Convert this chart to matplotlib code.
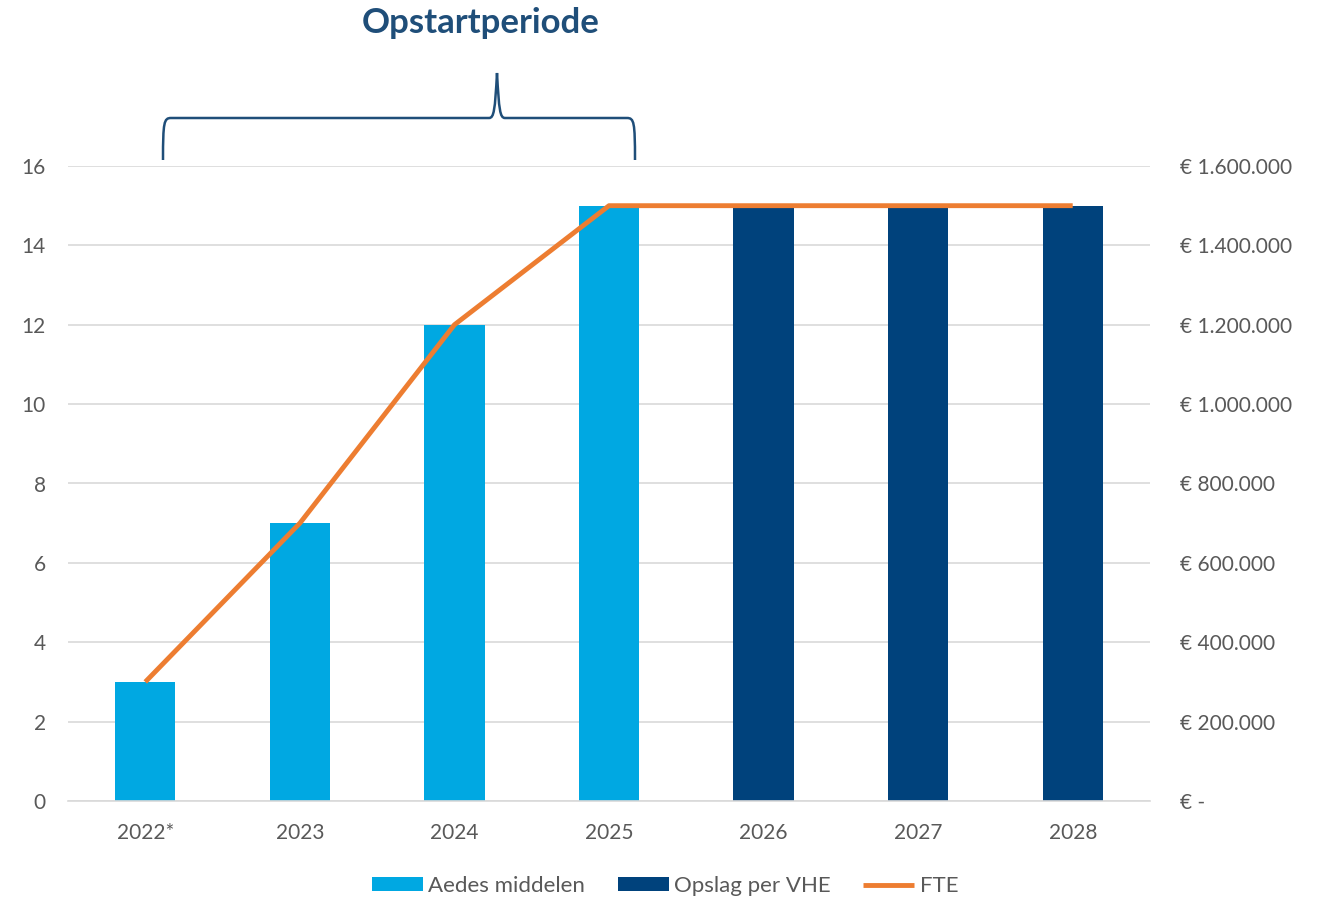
import numpy as np
import matplotlib.pyplot as plt
from matplotlib.path import Path
from matplotlib.patches import PathPatch
from matplotlib.ticker import FuncFormatter

plt.rcParams['font.family'] = ['Lato', 'DejaVu Sans']

# data
years = ['2022*', '2023', '2024', '2025', '2026', '2027', '2028']
aedes = [300000, 700000, 1200000, 1500000, 0, 0, 0]
opslag = [0, 0, 0, 0, 1500000, 1500000, 1500000]
fte = [3, 7, 12, 15, 15, 15, 15]

light = '#00A8E2'
dark = '#00427C'
orange = '#ED7D31'
grey = '#595959'

fig = plt.figure(figsize=(13.17, 8.98), dpi=100)
ax = fig.add_axes([68/1317, 97/898, (1150-68)/1317, (801-166)/898])
ax2 = ax.twinx()

x = np.arange(len(years))
w = 0.39
ax2.bar(x, aedes, w, color=light, label='Aedes middelen', zorder=2)
ax2.bar(x, opslag, w, color=dark, label='Opslag per VHE', zorder=2)
ax.plot(x, fte, color=orange, lw=3.5, label='FTE', zorder=5, solid_capstyle='butt')

# line above bars
ax.set_zorder(ax2.get_zorder() + 1)
ax.patch.set_visible(False)

ax.set_xlim(-0.5, 6.5)
ax.set_ylim(0, 16)
ax.set_yticks(range(0, 17, 2))
ax2.set_ylim(0, 1600000)
ax2.set_yticks(range(0, 1600001, 200000))

def euro(v, pos):
    if v == 0:
        return '€ -'
    return '€ ' + f'{int(v):,}'.replace(',', '.')

ax2.yaxis.set_major_formatter(FuncFormatter(euro))

ax.set_xticks(x)
ax.set_xticklabels(years)
for a in (ax, ax2):
    for s in a.spines.values():
        s.set_visible(False)
    a.tick_params(length=0, labelsize=15, labelcolor=grey)
ax.tick_params(axis='x', pad=16)
ax.tick_params(axis='y', pad=16)
ax2.tick_params(axis='y', pad=21.5)
ax2.yaxis.grid(True, color='#D9D9D9', lw=1.2, zorder=0)
ax2.set_axisbelow(True)
ax.spines['bottom'].set_visible(True)
ax.spines['bottom'].set_color('#D9D9D9')
ax.spines['bottom'].set_linewidth(1.2)

# brace in figure pixel coordinates
H = 898
xl, xr, xm = 163, 635, 497
yb, yh, yt = H - 160, H - 118, H - 73
verts = [
    (xl, yb), (xl, yh - 4), (xl + 1, yh), (xl + 8, yh),
    (xm - 8, yh), (xm - 3, yh), (xm - 2, yh + 8), (xm, yt),
    (xm + 2, yh + 8), (xm + 3, yh), (xm + 8, yh),
    (xr - 8, yh), (xr - 1, yh), (xr, yh - 4), (xr, yb),
]
codes = [Path.MOVETO, Path.CURVE4, Path.CURVE4, Path.CURVE4,
         Path.LINETO, Path.CURVE4, Path.CURVE4, Path.CURVE4,
         Path.CURVE4, Path.CURVE4, Path.CURVE4,
         Path.LINETO, Path.CURVE4, Path.CURVE4, Path.CURVE4]
fig.add_artist(PathPatch(Path(verts, codes), transform=None, fill=False,
                         edgecolor='#1F4E79', lw=1.8))

fig.text(481/1317, 1 - 23/898, 'Opstartperiode', ha='center', va='center',
         fontsize=25, fontweight='bold', color='#1F4E79')

h1, l1 = ax2.get_legend_handles_labels()
h2, l2 = ax.get_legend_handles_labels()
fig.legend(h1 + h2, l1 + l2, loc='center', bbox_to_anchor=(665/1317, 1 - 886/898),
           ncol=3, frameon=False, fontsize=16, labelcolor=grey,
           handlelength=2.3, handleheight=0.6, columnspacing=1.45, handletextpad=0.25)

fig.savefig('out.png', dpi=100)
